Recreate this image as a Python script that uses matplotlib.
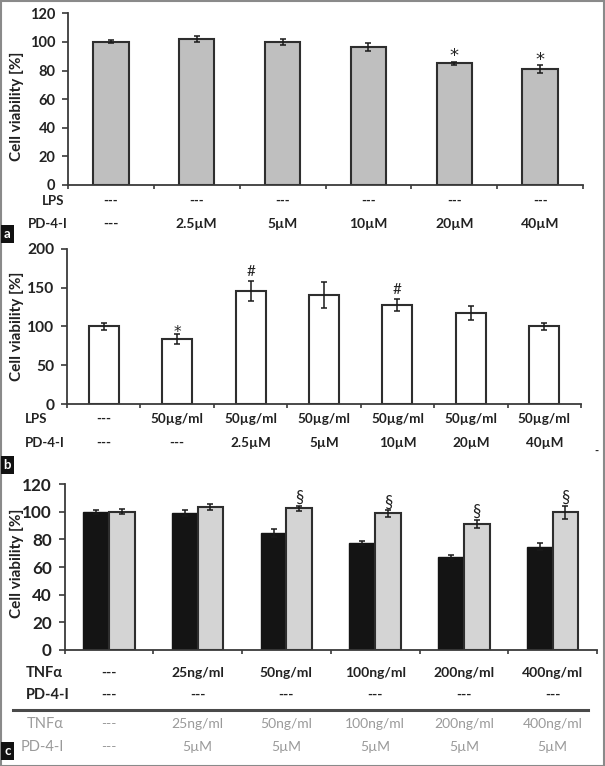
import matplotlib
matplotlib.use("Agg")
import matplotlib.pyplot as plt
from matplotlib.transforms import blended_transform_factory
from matplotlib.lines import Line2D
from matplotlib.patches import Rectangle
import numpy as np

plt.rcParams['font.family'] = ['Lato', 'DejaVu Sans']

# ---------------- data ----------------
# panel a
a_lps = ['---', '---', '---', '---', '---', '---']
a_pd = ['---', '2.5µM', '5µM', '10µM', '20µM', '40µM']
a_vals = [100, 102, 100, 96.5, 85, 81]
a_err = [1, 2.2, 2.2, 2.6, 1.2, 2.8]
a_sig = ['', '', '', '', '*', '*']

# panel b
b_lps = ['---', '50µg/ml', '50µg/ml', '50µg/ml', '50µg/ml', '50µg/ml', '50µg/ml']
b_pd = ['---', '---', '2.5µM', '5µM', '10µM', '20µM', '40µM']
b_vals = [100, 83.5, 146, 140.5, 127.5, 118, 100]
b_err = [4.7, 6.5, 13, 16.5, 8, 9, 4.5]
b_sig = ['', '*', '#', '', '#', '', '']

# panel c
c_tnf_row = ['---', '25ng/ml', '50ng/ml', '100ng/ml', '200ng/ml', '400ng/ml']
c_pd_row1 = ['---', '---', '---', '---', '---', '---']
c_pd_row2 = ['---', '5µM', '5µM', '5µM', '5µM', '5µM']
c_tnf_vals = [100, 99, 84.7, 77.2, 67.1, 74.8]
c_tnf_err = [1.5, 2.2, 3, 1.5, 1.5, 2.6]
c_pd_vals = [100, 103.5, 102.6, 98.8, 91.1, 99.5]
c_pd_err = [1.6, 2.0, 1.8, 2.4, 3.0, 4.7]
c_sig = ['', '', '§', '§', '§', '§']

# ---------------- layout helpers ----------------
W, H = 605, 766
fig = plt.figure(figsize=(W / 100, H / 100), dpi=100)
fig.patch.set_facecolor('white')

AX_COL = '#3a3a3a'
TXT = '#222222'
EDGE = '#2e2e2e'


def add_axes_px(left, right, y0, ytop):
    return fig.add_axes([left / W, 1 - y0 / H, (right - left) / W, (y0 - ytop) / H])


def style_axes(ax, n, ymax, ystep, fs):
    ax.set_xlim(0, n)
    ax.set_ylim(0, ymax)
    ax.set_yticks(np.arange(0, ymax + 0.1, ystep))
    ax.set_xticks(np.arange(0, n + 1))
    ax.set_xticklabels([])
    for s in ['top', 'right']:
        ax.spines[s].set_visible(False)
    for s in ['left', 'bottom']:
        ax.spines[s].set_color(AX_COL)
        ax.spines[s].set_linewidth(1.3)
    ax.tick_params(axis='y', direction='out', length=4, width=1.2, color=AX_COL,
                   labelsize=fs, pad=5, labelcolor=TXT)
    ax.tick_params(axis='x', direction='out', length=3, width=1.2, color=AX_COL)
    for t in ax.get_yticklabels():
        t.set_fontweight('bold')
    ax.patch.set_alpha(0)


def row_labels(ax, labels, ypx, fs, color=TXT, weight='bold'):
    tr = blended_transform_factory(ax.transData, fig.transFigure)
    for i, lab in enumerate(labels):
        ax.text(i + 0.5, 1 - ypx / H, lab, transform=tr, ha='center', va='center',
                fontsize=fs, fontweight=weight, color=color)


def ylabel(ax, ycenter_px, fs):
    ax.set_ylabel('Cell viability [%]', fontsize=fs, fontweight='bold', color=TXT,
                  va='center')
    ax.yaxis.set_label_coords(16.5 / W, 1 - ycenter_px / H, transform=fig.transFigure)


def sig_marks(ax, xs, tops, marks, fs, dy, family=None):
    for x, t, m in zip(xs, tops, marks):
        if m:
            kw = {'family': family} if family else {}
            ax.annotate(m, (x, t), xytext=(0, dy), textcoords='offset points',
                        ha='center', va='center', fontsize=fs, color=TXT, **kw)


# ---------------- panel a ----------------
ax_a = add_axes_px(68, 583, 185, 13.3)
xa = np.arange(len(a_vals)) + 0.5
ax_a.bar(xa, a_vals, width=0.41, color='#bfbfbf', edgecolor=EDGE, linewidth=1.5, zorder=2)
ax_a.errorbar(xa, a_vals, yerr=a_err, fmt='none', ecolor='#1a1a1a', elinewidth=1.1,
              capsize=2.5, capthick=1.1, zorder=3)
style_axes(ax_a, len(a_vals), 120, 20, 10.5)
ylabel(ax_a, 106, 11)
sig_marks(ax_a, xa, np.array(a_vals) + np.array(a_err), a_sig, 13, 4.0,
          family='DejaVu Sans')
row_labels(ax_a, a_lps, 201, 9.5)
row_labels(ax_a, a_pd, 224, 10)
fig.text(53 / W, 1 - 201 / H, 'LPS', ha='center', va='center', fontsize=9.5,
         fontweight='bold', color=TXT)
fig.text(48 / W, 1 - 224 / H, 'PD-4-I', ha='center', va='center', fontsize=9.5,
         fontweight='bold', color=TXT)

# ---------------- panel b ----------------
ax_b = add_axes_px(67, 581, 404, 249)
xb = np.arange(len(b_vals)) + 0.5
ax_b.bar(xb, b_vals, width=0.41, color='white', edgecolor=EDGE, linewidth=1.5, zorder=2)
ax_b.errorbar(xb, b_vals, yerr=b_err, fmt='none', ecolor='#1a1a1a', elinewidth=1.1,
              capsize=2.5, capthick=1.1, zorder=3)
style_axes(ax_b, len(b_vals), 200, 50, 11.2)
ylabel(ax_b, 326, 11)
for x, t, m in zip(xb, np.array(b_vals) + np.array(b_err), b_sig):
    if m == '*':
        ax_b.annotate(m, (x, t), xytext=(0, 1.5), textcoords='offset points',
                      ha='center', va='center', fontsize=11, color=TXT,
                      family='DejaVu Sans')
    elif m:
        ax_b.annotate(m, (x, t), xytext=(0, 6.3), textcoords='offset points',
                      ha='center', va='center', fontsize=11, color=TXT)
row_labels(ax_b, b_lps, 419, 9.7)
row_labels(ax_b, b_pd, 443, 9.7)
fig.text(25 / W, 1 - 419 / H, 'LPS', ha='left', va='center', fontsize=9.5,
         fontweight='bold', color=TXT)
fig.text(25 / W, 1 - 443 / H, 'PD-4-I', ha='left', va='center', fontsize=9.5,
         fontweight='bold', color=TXT)
fig.text(596 / W, 1 - 451 / H, '-', ha='center', va='center', fontsize=8,
         fontweight='bold', color=TXT)

# ---------------- panel c ----------------
ax_c = add_axes_px(64.5, 597, 650, 484)
xc = np.arange(len(c_tnf_vals)) + 0.5
bw = 0.29
ax_c.bar(xc - bw / 2, c_tnf_vals, width=bw, color='#141414', edgecolor='#141414',
         linewidth=1.0, zorder=2)
ax_c.bar(xc + bw / 2, c_pd_vals, width=bw, color='#d4d4d4', edgecolor=EDGE,
         linewidth=1.5, zorder=2)
ax_c.errorbar(xc - bw / 2, c_tnf_vals, yerr=c_tnf_err, fmt='none', ecolor='#1a1a1a',
              elinewidth=1.1, capsize=2.5, capthick=1.1, zorder=3)
ax_c.errorbar(xc + bw / 2, c_pd_vals, yerr=c_pd_err, fmt='none', ecolor='#1a1a1a',
              elinewidth=1.1, capsize=2.5, capthick=1.1, zorder=3)
style_axes(ax_c, len(c_tnf_vals), 120, 20, 12.3)
ylabel(ax_c, 563, 11)
sig_marks(ax_c, xc + bw / 2, np.array(c_pd_vals) + np.array(c_pd_err), c_sig, 12, 5.5)
row_labels(ax_c, c_tnf_row, 673, 10)
row_labels(ax_c, c_pd_row1, 695, 10)
row_labels(ax_c, c_tnf_row, 724, 10, color='#9a9a9a', weight='normal')
row_labels(ax_c, c_pd_row2, 747, 10, color='#9a9a9a', weight='normal')
fig.text(26 / W, 1 - 673 / H, 'TNFα', ha='left', va='center', fontsize=10.5,
         fontweight='bold', color=TXT)
fig.text(26 / W, 1 - 695 / H, 'PD-4-I', ha='left', va='center', fontsize=10.5,
         fontweight='bold', color=TXT)
fig.text(64 / W, 1 - 724 / H, 'TNFα', ha='right', va='center', fontsize=10.5,
         color='#9a9a9a')
fig.text(64 / W, 1 - 747 / H, 'PD-4-I', ha='right', va='center', fontsize=10.5,
         color='#9a9a9a')
fig.add_artist(Line2D([13 / W, 588 / W], [1 - 710 / H, 1 - 710 / H],
                      color='#4a4a4a', linewidth=2.2))

# ---------------- panel tags & frame ----------------
for tag, yc in [('a', 234), ('b', 465), ('c', 751)]:
    fig.text(7.5 / W, 1 - yc / H, tag, ha='center', va='center', fontsize=9.5,
             color='white', fontweight='bold',
             bbox=dict(boxstyle='square,pad=0.22', fc='#111111', ec='none'))

fig.add_artist(Rectangle((0.5 / W, 0.5 / H), 1 - 1.5 / W, 1 - 1.5 / H,
                         transform=fig.transFigure, fill=False, ec='#8a8a8a', lw=1.5))

fig.savefig('out.png', dpi=100)
